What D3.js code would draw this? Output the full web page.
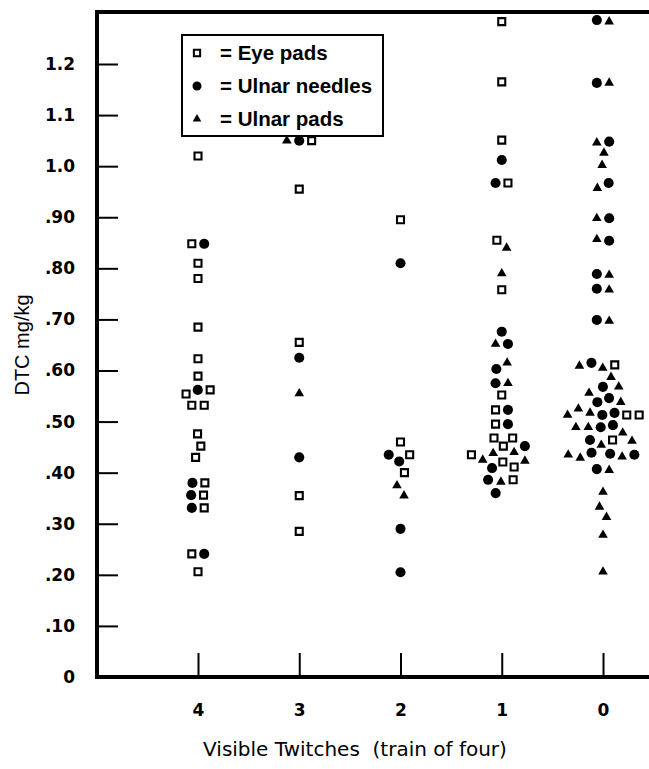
<!DOCTYPE html>
<html>
<head>
<meta charset="utf-8">
<script src="https://cdn.jsdelivr.net/npm/d3@7"></script>
<style>
    body { margin: 0; background: #fff; }
    svg { display: block; font-family: "Liberation Sans", Arial, sans-serif; }
</style>
</head>
<body>
<svg id="chart" width="649" height="769"></svg>
<script>
(function () {
    'use strict';

    // columns, left to right
    let categories = ['4', '3', '2', '1', '0'];

    let yTicks = [0, 0.1, 0.2, 0.3, 0.4, 0.5, 0.6, 0.7, 0.8, 0.9, 1.0, 1.1, 1.2];
    let yTickLabels = ['0', '.10', '.20', '.30', '.40', '.50', '.60', '.70', '.80', '.90', '1.0', '1.1', '1.2'];

    // DTC mg/kg, one array per column (4, 3, 2, 1, 0)
    let eyePads = [
        [1.02, .848, .81, .78, .685, .623, .589, .562, .554, .532, .532, .476, .452, .43, .38, .356, .331, .241, .206],
        [1.05, .955, .655, .355, .285],
        [.895, .46, .435, .40],
        [1.283, 1.165, 1.051, .967, .855, .758, .552, .523, .495, .468, .468, .452, .435, .421, .411, .386],
        [.611, .513, .513, .464]
    ];
    let ulnarNeedles = [
        [.848, .562, .38, .356, .331, .241],
        [1.05, .625, .43],
        [.81, .435, .422, .29, .205],
        [1.012, .967, .676, .652, .603, .575, .523, .495, .452, .409, .386, .36],
        [1.286, 1.163, 1.048, .967, .898, .854, .789, .76, .699, .615, .568, .546, .538, .517, .513,
         .493, .489, .464, .435, .437, .439, .407]
    ];
    let ulnarPads = [
        [],
        [1.05, .555],
        [.375, .355],
        [.84, .79, .652, .615, .575, .44, .438, .425, .423, .382],
        [1.283, 1.163, 1.046, 1.026, 1.002, .957, .898, .857, .787, .758, .697, .609, .605, .587, .568,
         .556, .538, .525, .517, .513, .489, .489, .478, .462, .454, .435, .431, .429, .405, .362,
         .333, .313, .278, .206]
    ];

    let seriesNames = ['= Eye pads', '= Ulnar needles', '= Ulnar pads'];
    let seriesData = [eyePads, ulnarNeedles, ulnarPads];

    let svg = d3.select('#chart');

    let x = d3.scalePoint()
        .domain(categories)
        .range([198, 603]);
    let y = d3.scaleLinear()
        .domain([0, 1.2])
        .range([677, 64]);

    let symbolType = [d3.symbolSquare, d3.symbolCircle, d3.symbolTriangle];
    let symbolSize = [49, 80, 40];

    // axes
    let yAxis = d3.axisLeft(y)
        .tickValues(yTicks)
        .tickSize(-21)
        .tickPadding(22)
        .tickFormat(function (d, i) { return yTickLabels[i]; });
    let gy = svg.append('g')
        .attr('transform', 'translate(97,0)')
        .call(yAxis);
    gy.select('.domain').remove();
    gy.selectAll('line').attr('stroke', '#000').attr('stroke-width', 2);
    gy.selectAll('text')
        .attr('fill', '#000')
        .style('font-family', '"DejaVu Sans", sans-serif')
        .style('font-size', '17px')
        .style('font-weight', 'bold');

    let xAxis = d3.axisBottom(x)
        .tickSize(-24)
        .tickPadding(27);
    let gx = svg.append('g')
        .attr('transform', 'translate(0,677)')
        .call(xAxis);
    gx.select('.domain').remove();
    gx.selectAll('line').attr('stroke', '#000').attr('stroke-width', 2);
    gx.selectAll('text')
        .attr('fill', '#000')
        .style('font-family', '"DejaVu Sans", sans-serif')
        .style('font-size', '17px')
        .style('font-weight', 'bold');

    // frame (right side runs off the page)
    svg.append('path')
        .attr('d', 'M660,12H97V677H660')
        .attr('fill', 'none')
        .attr('stroke', '#000')
        .attr('stroke-width', 4);

    svg.append('text')
        .attr('transform', 'translate(29,345) rotate(-90)')
        .attr('text-anchor', 'middle')
        .style('font-size', '20px')
        .text('DTC mg/kg');

    svg.append('text')
        .attr('x', 355)
        .attr('y', 756)
        .attr('text-anchor', 'middle')
        .style('font-family', '"DejaVu Sans", sans-serif')
        .style('font-size', '20px')
        .style('white-space', 'pre')
        .text('Visible Twitches  (train of four)');

    // points, spread sideways with a small beeswarm
    let nodes = [];
    for (let s = 0; s < seriesData.length; s++) {
        for (let c = 0; c < categories.length; c++) {
            seriesData[s][c].forEach(function (v) {
                nodes.push({ series: s, cat: categories[c], value: v,
                    x: x(categories[c]), y: y(v), fy: y(v) });
            });
        }
    }
    let sim = d3.forceSimulation(nodes)
        .force('x', d3.forceX(function (d) { return x(d.cat); }).strength(0.08))
        .force('collide', d3.forceCollide(6.2).iterations(4))
        .stop();
    for (let i = 0; i < 300; i++) sim.tick();

    svg.append('g')
        .selectAll('path')
        .data(nodes)
        .enter()
        .append('path')
        .attr('transform', function (d) { return 'translate(' + d.x + ',' + d.fy + ')'; })
        .attr('d', function (d) {
            return d3.symbol().type(symbolType[d.series]).size(symbolSize[d.series])();
        })
        .attr('fill', function (d) { return d.series === 0 ? '#fff' : '#000'; })
        .attr('stroke', function (d) { return d.series === 0 ? '#000' : 'none'; })
        .attr('stroke-width', 2.1);

    // legend
    let legend = svg.append('g');
    legend.append('rect')
        .attr('x', 182)
        .attr('y', 35)
        .attr('width', 201)
        .attr('height', 101)
        .attr('fill', '#fff')
        .attr('stroke', '#000')
        .attr('stroke-width', 2);
    let rows = legend.selectAll('g.row')
        .data(seriesNames)
        .enter()
        .append('g')
        .attr('class', 'row')
        .attr('transform', function (d, i) { return 'translate(0,' + (53 + i * 33) + ')'; });
    rows.append('path')
        .attr('transform', 'translate(197,0)')
        .attr('d', function (d, i) { return d3.symbol().type(symbolType[i]).size(symbolSize[i] * 0.8)(); })
        .attr('fill', function (d, i) { return i === 0 ? '#fff' : '#000'; })
        .attr('stroke', function (d, i) { return i === 0 ? '#000' : 'none'; })
        .attr('stroke-width', 2);
    rows.append('text')
        .attr('x', 220)
        .attr('dy', '0.36em')
        .style('font-size', '20.5px')
        .style('font-weight', 'bold')
        .text(function (d) { return d; });
})();
</script>
</body>
</html>
